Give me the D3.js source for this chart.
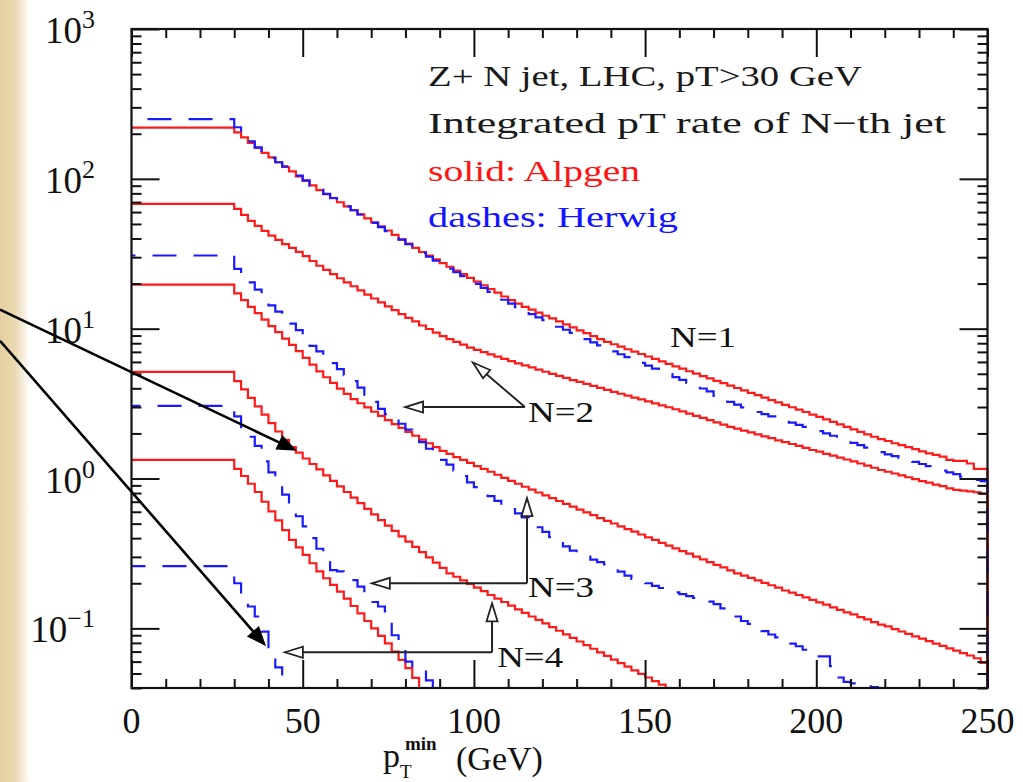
<!DOCTYPE html>
<html><head><meta charset="utf-8">
<script src="https://cdn.jsdelivr.net/npm/d3@7"></script>
<style>html,body{margin:0;padding:0;background:#fff;}svg{display:block;}</style>
</head><body>
<svg id="chart" width="1023" height="782"></svg>
<script>
// ---------------- data ----------------
const binStart = 30;      // GeV, first bin lower edge
const binWidth = 2;       // GeV
const xMaxGeV = 250;
const yMinVal = 0.04, yMaxVal = 1000;

// Alpgen (solid red): rate for pTmin < 30 GeV, then per-bin values from 30 GeV
const alpgenFlat = [220, 68, 19.7, 5.15, 1.33];
const alpgen1 = [204,189,174,161,149,139,129,120,112,104,
  97,90.4,84.1,79.1,74.3,69.8,65.6,61.7,57.9,54.5,
  51.2,48.1,45.2,42.3,39.5,37.0,34.6,32.5,30.7,29.0,
  27.4,25.9,24.4,23.1,21.8,20.6,19.5,18.4,17.4,16.4,
  15.5,14.7,14.0,13.4,12.8,12.2,11.7,11.2,10.7,10.2,
  9.75,9.33,8.91,8.51,8.17,7.87,7.59,7.29,7.03,6.78,
  6.52,6.28,6.05,5.82,5.61,5.41,5.20,5.01,4.83,4.66,
  4.49,4.33,4.17,4.02,3.87,3.73,3.60,3.47,3.34,3.22,
  3.10,2.99,2.88,2.78,2.67,2.58,2.48,2.39,2.30,2.21,
  2.13,2.05,1.97,1.90,1.83,1.78,1.72,1.67,1.62,1.57,
  1.52,1.47,1.44,1.40,1.33,1.31,1.31,1.26,1.16,1.16];
const alpgen2 = [63.1,57.5,52.5,48.5,44.9,41.8,39.2,36.7,34.6,32.6,
  30.5,28.3,26.3,24.7,23.1,21.7,20.4,19.2,18.0,16.9,
  15.9,15.0,14.1,13.3,12.5,11.8,11.2,10.5,9.95,9.40,
  8.91,8.51,8.17,7.82,7.48,7.21,6.97,6.73,6.50,6.28,
  6.07,5.87,5.69,5.51,5.33,5.16,5.00,4.84,4.69,4.54,
  4.41,4.28,4.15,4.03,3.91,3.79,3.68,3.57,3.47,3.37,
  3.27,3.17,3.08,2.99,2.90,2.81,2.71,2.62,2.54,2.45,
  2.37,2.29,2.21,2.15,2.09,2.03,1.97,1.91,1.86,1.80,
  1.75,1.70,1.65,1.60,1.55,1.51,1.46,1.42,1.38,1.34,
  1.30,1.26,1.22,1.18,1.14,1.11,1.08,1.05,1.02,0.99,
  0.96,0.94,0.91,0.89,0.86,0.84,0.83,0.82,0.81,0.79];
const alpgen3 = [17.2,15.5,14.0,12.7,11.5,10.4,9.49,8.59,7.80,7.08,
  6.38,5.75,5.19,4.74,4.35,3.98,3.67,3.39,3.18,2.98,
  2.79,2.62,2.45,2.31,2.18,2.05,1.93,1.82,1.72,1.62,
  1.53,1.46,1.39,1.33,1.27,1.21,1.16,1.11,1.06,1.01,
  0.964,0.923,0.881,0.843,0.807,0.773,0.74,0.708,0.678,0.649,
  0.621,0.594,0.569,0.545,0.522,0.501,0.48,0.46,0.442,0.423,
  0.405,0.389,0.372,0.357,0.342,0.328,0.315,0.301,0.289,0.277,
  0.265,0.255,0.244,0.233,0.225,0.217,0.209,0.201,0.194,0.187,
  0.179,0.173,0.167,0.161,0.155,0.149,0.144,0.138,0.133,0.128,
  0.124,0.119,0.115,0.11,0.106,0.103,0.0989,0.0953,0.0918,0.0885,
  0.0853,0.0822,0.0792,0.0764,0.0736,0.071,0.0684,0.0659,0.0632,0.0589];
const alpgen4 = [4.47,3.93,3.45,3.03,2.67,2.34,2.06,1.81,1.62,1.49,
  1.36,1.25,1.15,1.05,0.966,0.887,0.813,0.746,0.685,0.628,
  0.577,0.528,0.485,0.447,0.411,0.379,0.35,0.323,0.298,0.275,
  0.253,0.233,0.221,0.209,0.198,0.187,0.177,0.167,0.158,0.15,
  0.142,0.134,0.127,0.12,0.114,0.108,0.102,0.0964,0.0912,0.0863,
  0.0817,0.0773,0.0731,0.0692,0.0655,0.0619,0.0586,0.0555,0.0525,0.0497,
  0.047,0.0445,0.0421,0.0398];
const alpgen5 = [1.16,1.04,0.923,0.813,0.70,0.603,0.525,0.452,0.389,0.347,
  0.309,0.272,0.24,0.216,0.195,0.176,0.158,0.141,0.126,0.112,
  0.10,0.0891,0.0794,0.07,0.0617,0.0543,0.0468,0.0398];

// Herwig (dashed blue)
const herwigFlat = [250, 30.8, 3.05, 0.26];
const herwig1 = [221,195,178,162,150,138,129,121,112,105,
  97.7,90.2,84.7,79.4,74.5,70.0,65.5,61.7,57.8,54.2,
  50.8,47.6,44.8,41.9,39.3,36.6,34.3,32.1,30.2,28.4,
  26.8,25.2,23.8,22.4,21.1,19.9,18.7,17.6,16.6,15.6,
  14.7,13.9,13.2,12.5,11.9,11.4,10.8,10.3,9.84,9.38,
  8.93,8.51,8.11,7.73,7.36,7.05,6.75,6.46,6.18,5.92,
  5.66,5.42,5.19,4.97,4.75,4.55,4.36,4.17,3.99,3.82,
  3.56,3.40,3.25,3.11,2.98,2.88,2.78,2.69,2.60,2.52,
  2.44,2.36,2.28,2.21,2.14,2.07,2.00,1.93,1.86,1.79,
  1.73,1.67,1.61,1.56,1.50,1.45,1.41,1.37,1.32,1.29,
  1.25,1.21,1.17,1.13,1.10,1.07,1.03,1.00,0.98,0.96];
const herwig2 = [25.1,22.6,20.4,18.2,16.0,14.3,13.0,11.9,10.8,9.77,
  8.71,7.69,7.05,6.46,5.89,5.37,4.90,4.47,4.04,3.63,
  3.25,2.92,2.69,2.50,2.32,2.12,1.93,1.75,1.58,1.45,
  1.33,1.24,1.13,1.04,0.944,0.875,0.817,0.762,0.71,0.661,
  0.624,0.586,0.55,0.511,0.473,0.44,0.407,0.38,0.353,0.33,
  0.313,0.301,0.288,0.277,0.267,0.253,0.239,0.225,0.214,0.207,
  0.20,0.192,0.186,0.179,0.174,0.169,0.164,0.16,0.155,0.151,
  0.145,0.136,0.128,0.12,0.112,0.107,0.101,0.096,0.091,0.087,
  0.083,0.079,0.076,0.072,0.069,0.065,0.065,0.056,0.047,0.044,
  0.043,0.042,0.041,0.0405,0.040];
const herwig3 = [2.6,2.2,1.9,1.65,1.3,1.1,0.93,0.78,0.66,0.56,
  0.48,0.40,0.34,0.28,0.245,0.24,0.235,0.21,0.19,0.16,
  0.15,0.14,0.13,0.09,0.08,0.06,0.055,0.054,0.045];
const herwig4 = [0.20,0.17,0.14,0.12,0.095,0.072,0.055];

const alpgenSeries = [alpgen1, alpgen2, alpgen3, alpgen4, alpgen5];
const herwigSeries = [herwig1, herwig2, herwig3, herwig4];

const xMajorTicks = [0, 50, 100, 150, 200, 250];
const xTickLabels = ["0", "50", "100", "150", "200", "250"];
const yDecades = [-1, 0, 1, 2, 3];
const yDecadeLabels = ["\u22121", "0", "1", "2", "3"];

const infoLines = [
  {text: "Z+ N jet, LHC, pT>30 GeV", color: "#1a1a1a", len: 434},
  {text: "Integrated pT rate of N\u2212th jet", color: "#1a1a1a", len: 518},
  {text: "solid: Alpgen", color: "#ff1414", len: 212},
  {text: "dashes: Herwig", color: "#1414ff", len: 250}
];
// annotation labels and arrows (data coordinates: GeV, rate)
const nLabels = [
  {t: "N=1", gx: 157.3, v: 7.6},
  {t: "N=2", gx: 115.8, v: 2.4},
  {t: "N=3", gx: 115.8, v: 0.162},
  {t: "N=4", gx: 106.8, v: 0.055}
];
const openArrows = [ // from (gx0,v0) to tip (gx1,v1)
  {gx0: 114.9, v0: 3.0, gx1: 79.9, v1: 3.0},
  {gx0: 114.9, v0: 3.0, gx1: 99.7, v1: 5.95},
  {gx0: 115.5, v0: 0.2, gx1: 70.2, v1: 0.2},
  {gx0: 115.5, v0: 0.2, gx1: 115.5, v1: 0.74},
  {gx0: 105.3, v0: 0.0693, gx1: 44.8, v1: 0.0693},
  {gx0: 105.3, v0: 0.0693, gx1: 105.3, v1: 0.147}
];
const slideArrows = [
  {gx0: -38.4, v0: 13.4, gx1: 48.3, v1: 1.53},
  {gx0: -38.4, v0: 8.3, gx1: 39.3, v1: 0.076}
];

// ---------------- drawing ----------------
const svg = d3.select("#chart");
const W = 1023, H = 782;
const plotL = 131.5, plotR = 987.5, plotT = 29, plotB = 688;

const x = d3.scaleLinear().domain([0, xMaxGeV]).range([plotL, plotR]);
const y = d3.scaleLog().domain([yMinVal, yMaxVal]).range([plotB, plotT]);

svg.append("rect").attr("width", W).attr("height", H).attr("fill", "#fff");
const grad = svg.append("defs").append("linearGradient").attr("id", "beige")
  .attr("x1", "0").attr("x2", "1").attr("y1", "0").attr("y2", "0");
grad.append("stop").attr("offset", "0").attr("stop-color", "#e4cf9f");
grad.append("stop").attr("offset", "0.5").attr("stop-color", "#ead9b2");
grad.append("stop").attr("offset", "1").attr("stop-color", "#ffffff");
svg.append("rect").attr("x", 0).attr("y", 0).attr("width", 30).attr("height", H).attr("fill", "url(#beige)");

const yv = v => y(Math.max(v, yMinVal));
function histPoints(flat, vals, tail) {
  const pts = [[x(0), yv(flat)], [x(binStart), yv(flat)]];
  vals.forEach((v, i) => {
    const a = binStart + i * binWidth;
    pts.push([x(a), yv(v)]);
    pts.push([x(a + binWidth), yv(v)]);
  });
  const end = binStart + vals.length * binWidth;
  pts.push([x(end), y(yMinVal)]);
  if (tail) pts.push([x(xMaxGeV), y(yMinVal)]);
  return pts;
}
const line = d3.line();

const curves = svg.append("g");
alpgenSeries.forEach((s, i) => {
  curves.append("path").attr("d", line(histPoints(alpgenFlat[i], s, false)))
    .attr("fill", "none").attr("stroke", "#ff1a1a").attr("stroke-width", 2.2)
    .attr("stroke-linejoin", "miter");
});
herwigSeries.forEach((s, i) => {
  curves.append("path").attr("d", line(histPoints(herwigFlat[i], s, i === 3)))
    .attr("fill", "none").attr("stroke", "#1a1aff").attr("stroke-width", 2.2)
    .attr("stroke-dasharray", "24,17").attr("stroke-dashoffset", -16 - 5 * i);
});

// axes: ticks inward on all four sides
const tickCol = "#111";
const xMinor = d3.range(0, xMaxGeV + 1, 10).filter(v => v % 50 !== 0);
const yAll = y.ticks();
const yMajorVals = yDecades.map(d => Math.pow(10, d));
const yMinorVals = yAll.filter(v => Math.abs(Math.log10(v) - Math.round(Math.log10(v))) > 1e-6);

function drawAxis(axisFn, vals, size, tr) {
  const g = svg.append("g").attr("transform", tr)
    .call(axisFn.tickValues(vals).tickSize(size).tickFormat(""));
  g.select(".domain").remove();
  g.selectAll(".tick line").attr("stroke", tickCol).attr("stroke-width", 2);
}
drawAxis(d3.axisBottom(x), xMinor, -9, `translate(0,${plotB})`);
drawAxis(d3.axisBottom(x), xMajorTicks, -28, `translate(0,${plotB})`);
drawAxis(d3.axisTop(x), xMinor, -9, `translate(0,${plotT})`);
drawAxis(d3.axisTop(x), xMajorTicks, -28, `translate(0,${plotT})`);
drawAxis(d3.axisLeft(y), yMinorVals, -10, `translate(${plotL},0)`);
drawAxis(d3.axisLeft(y), yMajorVals, -28, `translate(${plotL},0)`);
drawAxis(d3.axisRight(y), yMinorVals, -10, `translate(${plotR},0)`);
drawAxis(d3.axisRight(y), yMajorVals, -28, `translate(${plotR},0)`);

svg.append("rect").attr("x", plotL).attr("y", plotT).attr("width", plotR - plotL).attr("height", plotB - plotT)
  .attr("fill", "none").attr("stroke", "#111").attr("stroke-width", 2.2);

const serif = "'Liberation Serif', 'DejaVu Serif', serif";

// x tick labels
svg.append("g").selectAll("text").data(xMajorTicks).join("text")
  .attr("x", d => x(d)).attr("y", 733).attr("text-anchor", "middle")
  .attr("font-family", serif).attr("font-size", 36).attr("fill", "#111")
  .text((d, i) => xTickLabels[i]);

// y tick labels 10^n
yDecades.forEach((d, i) => {
  const t = svg.append("text").attr("x", 95).attr("y", y(Math.pow(10, d)) + 14)
    .attr("text-anchor", "end").attr("font-family", serif).attr("fill", "#111");
  t.append("tspan").attr("font-size", 37).text("10");
  t.append("tspan").attr("font-size", 26).attr("dy", -15).text(yDecadeLabels[i]);
});

// x axis title
const xt = svg.append("g").attr("font-family", serif).attr("fill", "#111");
xt.append("text").attr("x", 383).attr("y", 767).attr("font-size", 34).text("p");
xt.append("text").attr("x", 400).attr("y", 778).attr("font-size", 19).text("T");
xt.append("text").attr("x", 405).attr("y", 750).attr("font-size", 19).attr("font-weight", "bold").text("min");
xt.append("text").attr("x", 456).attr("y", 770).attr("font-size", 34).text("(GeV)");

// info text block
const infoBase = [86, 133, 181, 227];
infoLines.forEach((l, i) => {
  svg.append("text").attr("x", 428).attr("y", infoBase[i])
    .attr("font-family", serif).attr("font-size", 30).attr("fill", l.color)
    .attr("textLength", l.len).attr("lengthAdjust", "spacingAndGlyphs").text(l.text);
});

// N labels
nLabels.forEach(l => {
  svg.append("text").attr("x", x(l.gx)).attr("y", y(l.v))
    .attr("font-family", serif).attr("font-size", 30).attr("fill", "#111")
    .attr("textLength", 66).attr("lengthAdjust", "spacingAndGlyphs").text(l.t);
});

// open-headed annotation arrows
function headPts(x0, y0, x1, y1, len, hw) {
  const dx = x1 - x0, dy = y1 - y0, L = Math.hypot(dx, dy);
  const ux = dx / L, uy = dy / L;
  const bx = x1 - ux * len, by = y1 - uy * len;
  return [[x1, y1], [bx - uy * hw, by + ux * hw], [bx + uy * hw, by - ux * hw]];
}
const ann = svg.append("g");
openArrows.forEach(a => {
  const x0 = x(a.gx0), y0 = y(a.v0), x1 = x(a.gx1), y1 = y(a.v1);
  ann.append("line").attr("x1", x0).attr("y1", y0).attr("x2", x1).attr("y2", y1)
    .attr("stroke", "#222").attr("stroke-width", 2);
  ann.append("polygon").attr("points", headPts(x0, y0, x1, y1, 18, 5.5).map(p => p.join(",")).join(" "))
    .attr("fill", "#fff").attr("stroke", "#222").attr("stroke-width", 1.8);
});

// slide arrows (filled heads)
slideArrows.forEach(a => {
  const x0 = x(a.gx0), y0 = y(a.v0), x1 = x(a.gx1), y1 = y(a.v1);
  const hp = headPts(x0, y0, x1, y1, 20, 8);
  const dx = x1 - x0, dy = y1 - y0, L = Math.hypot(dx, dy);
  svg.append("line").attr("x1", x0).attr("y1", y0)
    .attr("x2", x1 - dx / L * 18).attr("y2", y1 - dy / L * 18)
    .attr("stroke", "#000").attr("stroke-width", 2.6);
  svg.append("polygon").attr("points", hp.map(p => p.join(",")).join(" ")).attr("fill", "#000");
});
</script>
</body></html>
